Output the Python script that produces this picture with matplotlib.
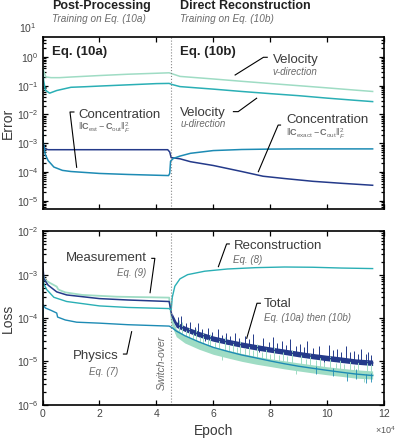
import matplotlib.pyplot as plt
from matplotlib import ticker

plt.rcParams['font.family'] = ['Liberation Sans', 'DejaVu Sans']
plt.rcParams['mathtext.fontset'] = 'custom'
plt.rcParams['mathtext.rm'] = 'Liberation Sans'
plt.rcParams['mathtext.it'] = 'Liberation Sans:italic'
plt.rcParams['mathtext.bf'] = 'Liberation Sans:bold'

mint = '#9fdcc4'
teal = '#2aafb5'
blue = '#1d8bb4'
navy = '#243a8a'
txt = '#3a3a3a'
sub = '#6a6a6a'

# ---- top panel: errors (epoch in units of 1e4) ----
vel_v_x = [0, 0.04, 0.12, 0.3, 0.6, 1, 2, 3, 4, 4.45, 4.55, 4.83, 6, 7, 8, 9, 10, 11, 11.6]
vel_v_y = [0.5, 0.32, 0.2, 0.19, 0.19, 0.2, 0.225, 0.25, 0.27, 0.28, 0.26, 0.21,
           0.171, 0.142, 0.119, 0.1, 0.084, 0.07, 0.063]

vel_u_x = [0, 0.04, 0.1, 0.25, 0.5, 1, 1.5, 2, 3, 4, 4.45, 4.55, 4.83, 6, 7, 8, 9, 10, 11, 11.6]
vel_u_y = [0.45, 0.15, 0.07, 0.055, 0.068, 0.088, 0.092, 0.097, 0.107, 0.118, 0.12, 0.11,
           0.093, 0.076, 0.063, 0.053, 0.045, 0.037, 0.031, 0.028]

conc_est_x = [0, 0.03, 0.1, 0.2, 0.4, 0.7, 1, 2, 3, 4, 4.43, 4.47, 4.5, 4.6, 4.83, 5.2,
              6, 7, 8, 9, 10, 11.6]
conc_est_y = [3e-3, 1e-3, 4e-4, 2.5e-4, 1.5e-4, 1.15e-4, 1.05e-4, 9e-5, 8.3e-5, 7.8e-5,
              7.6e-5, 9e-5, 2.4e-4, 3e-4, 3.6e-4, 4.5e-4, 5.6e-4, 6.1e-4, 6.3e-4,
              6.4e-4, 6.4e-4, 6.4e-4]

conc_exact_x = [0, 0.03, 0.08, 0.2, 1, 4.4, 4.47, 4.52, 4.83, 5.2, 6, 7, 7.75, 8.5,
                9.5, 10.5, 11.6]
conc_exact_y = [2e-3, 9e-4, 6.5e-4, 6e-4, 6e-4, 6e-4, 5e-4, 3.2e-4, 2.9e-4, 2.3e-4,
                1.7e-4, 1.05e-4, 7.2e-5, 6e-5, 4.8e-5, 4.1e-5, 3.5e-5]

# ---- bottom panel: losses ----
recon_x = [0, 0.05, 0.15, 0.4, 0.85, 2, 3, 4.45, 4.52, 4.56, 4.65, 4.83, 5.1, 5.7,
           6.5, 7.5, 8.5, 9.5, 10.5, 11.6]
recon_y = [1e-3, 6e-4, 4.5e-4, 3e-4, 2.4e-4, 1.9e-4, 1.75e-4, 1.65e-4, 1.5e-4, 3e-4,
           5.4e-4, 8e-4, 1e-3, 1.2e-3, 1.35e-3, 1.45e-3, 1.5e-3, 1.48e-3, 1.42e-3, 1.38e-3]

p2_x = [4.55, 4.7, 5.0, 5.5, 6.0, 6.5, 7.0, 7.5, 8.0, 8.5, 9.0, 9.5, 10.0, 10.5, 11.0, 11.6]

total_x = [0, 0.05, 0.2, 0.5, 0.85, 2, 3, 4.45] + p2_x
total_y = [2e-3, 8e-4, 5.7e-4, 4e-4, 3.4e-4, 2.8e-4, 2.6e-4, 2.4e-4,
           1.1e-4, 7e-5, 5.6e-5, 4.2e-5, 3.3e-5, 2.8e-5, 2.4e-5, 2.1e-5,
           1.85e-5, 1.65e-5, 1.45e-5, 1.3e-5, 1.18e-5, 1.08e-5, 9.8e-6, 9.2e-6]
total_lo = [9.5e-5, 6.1e-5, 4.9e-5, 3.65e-5, 2.9e-5, 2.45e-5, 2.1e-5, 1.83e-5,
            1.62e-5, 1.44e-5, 1.27e-5, 1.14e-5, 1.03e-5, 9.4e-6, 8.6e-6, 8e-6]
total_hi = [1.3e-4, 8.2e-5, 6.5e-5, 4.9e-5, 3.85e-5, 3.25e-5, 2.8e-5, 2.45e-5,
            2.15e-5, 1.92e-5, 1.7e-5, 1.52e-5, 1.38e-5, 1.26e-5, 1.14e-5, 1.07e-5]
total_spk_x = [4.75, 4.85, 5.05, 5.2, 5.35, 5.45, 5.6, 5.7, 5.8, 5.95, 6.15, 6.3, 6.45,
               6.6, 6.75, 6.9, 7.1, 7.25, 7.4, 7.6, 7.75, 7.95, 8.1, 8.25, 8.4, 8.55,
               8.7, 8.9, 9.05, 9.2, 9.3, 9.5, 9.7, 9.9, 10.05, 10.2, 10.35, 10.5,
               10.65, 10.8, 10.95, 11.1, 11.2, 11.35, 11.45, 11.55]
total_spk_lo = [6.5e-5, 6e-5, 5.4e-5, 5e-5, 4.5e-5, 4.3e-5, 3.9e-5, 2.9e-5, 3.6e-5,
                3.4e-5, 3.1e-5, 2.9e-5, 2.8e-5, 2.7e-5, 2.6e-5, 2.5e-5, 2.35e-5,
                2.25e-5, 2.15e-5, 1.6e-5, 2e-5, 1.9e-5, 1.8e-5, 1.75e-5, 1.7e-5,
                1.63e-5, 1.55e-5, 1.5e-5, 1.45e-5, 1.4e-5, 1.37e-5, 1.3e-5, 1.25e-5,
                9.5e-6, 1.17e-5, 1.13e-5, 1.1e-5, 1.08e-5, 1.05e-5, 1.02e-5, 9.9e-6,
                9.7e-6, 9.6e-6, 9.4e-6, 9.3e-6, 9.2e-6]
total_spk_hi = [1.05e-4, 1.1e-4, 7.5e-5, 8e-5, 6.2e-5, 7.5e-5, 5.5e-5, 3.9e-5, 6e-5,
                4.8e-5, 5.5e-5, 4.1e-5, 4.5e-5, 3.8e-5, 4.6e-5, 3.5e-5, 3.9e-5,
                3.2e-5, 4.2e-5, 2.1e-5, 3.4e-5, 2.8e-5, 3.6e-5, 2.6e-5, 2.9e-5,
                2.4e-5, 3.3e-5, 2.3e-5, 2.5e-5, 2.1e-5, 2.9e-5, 2e-5, 2.2e-5,
                1.25e-5, 2.4e-5, 1.8e-5, 1.9e-5, 1.65e-5, 2.3e-5, 1.6e-5, 1.7e-5,
                1.5e-5, 1.9e-5, 1.45e-5, 1.6e-5, 1.4e-5]

meas_x = [0, 0.03, 0.1, 0.25, 0.5, 0.55, 0.6, 0.8, 1.4, 2.6, 4.45] + p2_x
meas_y = [1.5e-3, 9e-4, 7.5e-4, 6.5e-4, 5.3e-4, 4.6e-4, 4.4e-4, 3.9e-4, 3.4e-4, 3.1e-4,
          2.95e-4, 8e-5, 4.5e-5, 3.2e-5, 2.3e-5, 1.75e-5, 1.45e-5, 1.22e-5, 1.05e-5,
          9.2e-6, 8.2e-6, 7.3e-6, 6.6e-6, 6e-6, 5.5e-6, 5.1e-6, 4.8e-6]
meas_lo = [6.5e-5, 3.7e-5, 2.65e-5, 1.9e-5, 1.45e-5, 1.2e-5, 1.0e-5, 8.6e-6,
           7.6e-6, 6.7e-6, 6e-6, 5.4e-6, 4.9e-6, 4.5e-6, 4.1e-6, 3.9e-6]
meas_hi = [1.0e-4, 5.6e-5, 4e-5, 2.9e-5, 2.2e-5, 1.8e-5, 1.52e-5, 1.3e-5,
           1.15e-5, 1.03e-5, 9.2e-6, 8.3e-6, 7.5e-6, 6.9e-6, 6.4e-6, 6e-6]
meas_spk_x = [4.8, 4.9, 5.05, 5.15, 5.3, 5.4, 5.55, 5.65, 5.8, 5.9, 6.05, 6.2, 6.3,
              6.4, 6.55, 6.7, 6.85, 6.95, 7.1, 7.25, 7.4, 7.55, 7.7, 7.85, 8.0, 8.15,
              8.3, 8.45, 8.6, 8.75, 8.9, 9.1, 9.25, 9.4, 9.6, 9.75, 9.9, 10.1, 10.3,
              10.45, 10.6, 10.8, 10.95, 11.1, 11.3, 11.4, 11.55]
meas_spk_lo = [4e-5, 3.5e-5, 3e-5, 2.9e-5, 2.6e-5, 2.5e-5, 2.2e-5, 2.1e-5, 1.95e-5,
               1.85e-5, 1.7e-5, 1.6e-5, 1.1e-5, 1.5e-5, 1.45e-5, 1.35e-5, 1.3e-5,
               1.25e-5, 1.2e-5, 1.15e-5, 1.1e-5, 1.05e-5, 1e-5, 9.6e-6, 9.3e-6, 9e-6,
               8.6e-6, 8.3e-6, 8e-6, 7.8e-6, 5e-6, 7.2e-6, 7e-6, 6.8e-6, 6.5e-6,
               6.3e-6, 6.1e-6, 5.9e-6, 5.7e-6, 5.6e-6, 5.4e-6, 5.3e-6, 5.2e-6, 5e-6,
               3.3e-6, 4.9e-6, 4.8e-6]
meas_spk_hi = [9e-5, 8e-5, 5.5e-5, 6e-5, 4.5e-5, 5.5e-5, 3.6e-5, 4.4e-5, 3.2e-5,
               4.2e-5, 2.8e-5, 3.3e-5, 1.6e-5, 3.6e-5, 2.4e-5, 2.8e-5, 2.1e-5, 3e-5,
               2e-5, 2.4e-5, 1.8e-5, 2.5e-5, 1.65e-5, 2e-5, 1.5e-5, 2.1e-5, 1.4e-5,
               1.7e-5, 1.3e-5, 1.8e-5, 7.5e-6, 1.45e-5, 1.15e-5, 1.5e-5, 1.05e-5,
               1.25e-5, 9.8e-6, 1.3e-5, 9.2e-6, 1.1e-5, 8.8e-6, 1.15e-5, 8.2e-6,
               9.5e-6, 5e-6, 1e-5, 8.5e-6]

phys_x = [0, 0.02, 0.1, 0.3, 0.5, 0.53, 0.8, 1.2, 2, 3, 4.45] + p2_x
phys_y = [1e-5, 2e-4, 1.7e-4, 1.5e-4, 1.3e-4, 1.05e-4, 9e-5, 8e-5, 7.6e-5, 7e-5, 6.5e-5,
          6e-5, 5e-5, 3.9e-5, 2.8e-5, 2.1e-5, 1.7e-5, 1.4e-5, 1.2e-5, 1.02e-5,
          8.8e-6, 7.7e-6, 6.9e-6, 6.2e-6, 5.6e-6, 5.1e-6, 4.7e-6]
phys_spk_x = [9.6, 10.2, 10.7, 11.0, 11.35, 11.55]
phys_spk_lo = [5e-6, 4.6e-6, 3.6e-6, 4e-6, 3.2e-6, 3.4e-6]
phys_spk_hi = [8e-6, 7e-6, 5.5e-6, 6.5e-6, 5e-6, 5.5e-6]

switch_epoch = 4.5

fig = plt.figure(figsize=(3.95, 4.43), dpi=100)
ax1 = fig.add_axes([0.1076, 0.5282, 0.8646, 0.3883])
ax2 = fig.add_axes([0.1076, 0.0865, 0.8646, 0.3914])

ax1.plot(vel_v_x, vel_v_y, color=mint, lw=1.1)
ax1.plot(vel_u_x, vel_u_y, color=teal, lw=1.1)
ax1.plot(conc_exact_x, conc_exact_y, color=navy, lw=1.1)
ax1.plot(conc_est_x, conc_est_y, color=blue, lw=1.1)

ax2.fill_between(p2_x, meas_lo, meas_hi, color=mint, lw=0)
ax2.vlines(meas_spk_x, meas_spk_lo, meas_spk_hi, color=mint, lw=0.7)
ax2.plot(meas_x, meas_y, color=mint, lw=1.3)
ax2.plot(phys_x, phys_y, color=blue, lw=1.0)
ax2.vlines(phys_spk_x, phys_spk_lo, phys_spk_hi, color=blue, lw=0.6)
ax2.fill_between(p2_x, total_lo, total_hi, color=navy, lw=0)
ax2.vlines(total_spk_x, total_spk_lo, total_spk_hi, color=navy, lw=0.7)
ax2.plot(total_x, total_y, color=navy, lw=1.1)
ax2.plot(recon_x, recon_y, color=teal, lw=1.0)

for ax in (ax1, ax2):
    ax.set_yscale('log')
    ax.set_xlim(0, 12)
    ax.set_xticks([0, 2, 4, 6, 8, 10, 12])
    ax.yaxis.set_minor_locator(ticker.LogLocator(base=10, subs=range(2, 10), numticks=30))
    ax.yaxis.set_minor_formatter(ticker.NullFormatter())
    ax.axvline(switch_epoch, color='#888888', ls=':', lw=0.8)
    ax.tick_params(which='both', direction='in', top=True, right=True,
                   labelsize=7.5, labelcolor='#444444', pad=3, width=0.9)
    ax.tick_params(which='major', length=3.5)
    ax.tick_params(which='minor', length=2.5)
    for s in ax.spines.values():
        s.set_linewidth(1.2)

ax1.set_ylim(10 ** -5.28, 10 ** 0.69)
ax1.set_yticks([1e-5, 1e-4, 1e-3, 1e-2, 1e-1, 1e0])
ax1.tick_params(labelbottom=False)
ax1.text(-0.018, 10.0, r'$\mathdefault{10^{1}}$', transform=ax1.get_yaxis_transform(),
         ha='right', va='center', fontsize=7.5, color='#444444', clip_on=False)
ax2.set_ylim(1e-6, 1e-2)
ax2.set_yticks([1e-6, 1e-5, 1e-4, 1e-3, 1e-2])

ax1.set_ylabel('Error', fontsize=10, color=txt)
ax2.set_ylabel('Loss', fontsize=10, color=txt)
ax1.yaxis.set_label_coords(-0.08, 0.5)
ax2.yaxis.set_label_coords(-0.08, 0.5)
ax2.set_xlabel('Epoch', fontsize=10, color=txt, labelpad=4)
fig.text(0.949, 0.029, r'$\times\mathdefault{10^{4}}$', fontsize=6.5, color='#555555',
         va='center')

# headings
fig.text(0.1316, 0.979, 'Post-Processing', fontsize=9, weight='bold', color='#222222')
fig.text(0.4557, 0.979, 'Direct Reconstruction', fontsize=9, weight='bold', color='#222222')
fig.text(0.1316, 0.951, 'Training on Eq. (10a)', fontsize=7.2, style='italic', color=sub)
fig.text(0.4557, 0.951, 'Training on Eq. (10b)', fontsize=7.2, style='italic', color=sub)

ax1.text(0.028, 0.913, 'Eq. (10a)', transform=ax1.transAxes, fontsize=9.5,
         weight='bold', color='#222222', va='center')
ax1.text(0.403, 0.913, 'Eq. (10b)', transform=ax1.transAxes, fontsize=9.5,
         weight='bold', color='#222222', va='center')


def label(ax, x, y, name, note, ha='left', dy=0.072, note_size=7):
    ax.text(x, y, name, transform=ax.transAxes, fontsize=9.5, color=txt,
            ha=ha, va='center')
    ax.text(x, y - dy, note, transform=ax.transAxes, fontsize=note_size, color=sub,
            style='italic', ha=ha, va='center')


def leader(ax, xs, ys):
    ax.plot(xs, ys, transform=ax.transAxes, color='k', lw=0.8, clip_on=False)


label(ax1, 0.674, 0.866, 'Velocity', 'v-direction')
leader(ax1, [0.564, 0.647, 0.658], [0.779, 0.882, 0.882])
label(ax1, 0.403, 0.558, 'Velocity', 'u-direction', dy=0.066)
leader(ax1, [0.559, 0.573, 0.627], [0.566, 0.566, 0.644])
label(ax1, 0.104, 0.547,
      'Concentration',
      r'$\Vert\mathbf{C}_{\mathrm{est}}-\mathbf{C}_{\mathrm{out}}\Vert_{F}^{2}$',
      dy=0.075, note_size=6.5)
leader(ax1, [0.092, 0.0805, 0.100], [0.564, 0.564, 0.2424])
label(ax1, 0.713, 0.517,
      'Concentration',
      r'$\Vert\mathbf{C}_{\mathrm{exact}}-\mathbf{C}_{\mathrm{out}}\Vert_{F}^{2}$',
      dy=0.083, note_size=6.5)
leader(ax1, [0.697, 0.690, 0.632], [0.488, 0.488, 0.217])

label(ax2, 0.305, 0.844, 'Measurement', 'Eq. (9)', ha='right', dy=0.086)
leader(ax2, [0.320, 0.329, 0.315], [0.844, 0.844, 0.646])
label(ax2, 0.559, 0.917, 'Reconstruction', 'Eq. (8)', dy=0.083)
leader(ax2, [0.547, 0.539, 0.515], [0.927, 0.927, 0.796])
label(ax2, 0.649, 0.581, 'Total', 'Eq. (10a) then (10b)', dy=0.083)
leader(ax2, [0.638, 0.628, 0.598], [0.585, 0.585, 0.383])
label(ax2, 0.222, 0.281, 'Physics', 'Eq. (7)', ha='right', dy=0.091)
leader(ax2, [0.237, 0.247, 0.261], [0.292, 0.292, 0.421])
ax2.text(0.349, 0.243, 'Switch-over', transform=ax2.transAxes, rotation=90,
         fontsize=7.5, style='italic', color=sub, ha='center', va='center')

fig.savefig('out.png', dpi=100)
